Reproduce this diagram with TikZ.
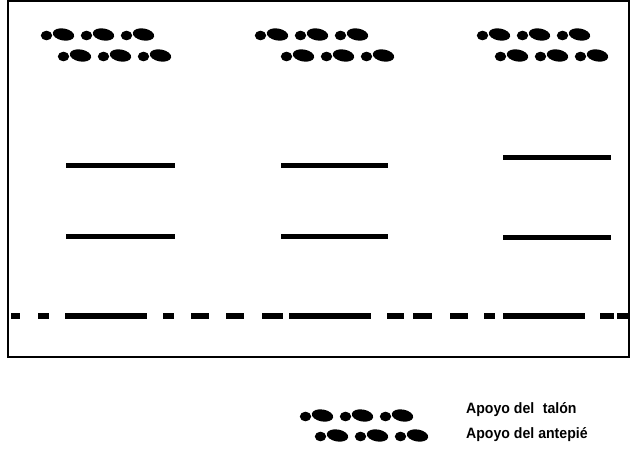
\documentclass[tikz,border=0pt]{standalone}
\usepackage{fontspec}
\setmainfont{Liberation Sans}
\begin{document}
\begin{tikzpicture}[x=1pt,y=-1pt,
  frame/.style={line width=1.8pt},
  bar/.style={line width=5pt},
  dashbar/.style={line width=5.5pt},
  legendtext/.style={anchor=base west,inner sep=0pt,font=\fontsize{15}{17}\selectfont\bfseries},
  footpair/.pic={
    \fill (5.5,0.5) ellipse [x radius=5.7, y radius=4.8];
    \fill[rotate around={-10:(22.5,-0.5)}] (22.5,-0.5) ellipse [x radius=10.8, y radius=6];
  }]
\useasboundingbox (0,0) rectangle (633,448);
\draw[frame] (8,1) rectangle (629,357);
% footprint rows
\foreach \sx/\sy in {41/35, 255/35, 477/35, 58/56, 281/56, 495/56, 300/416, 315/436}{
  \foreach \k in {0,1,2}{
    \pic at ({\sx+40*\k},\sy) {footpair};
  }
}
% horizontal bars
\draw[bar] (66,165) -- (175,165);
\draw[bar] (66,236) -- (175,236);
\draw[bar] (281,165) -- (388,165);
\draw[bar] (281,236) -- (388,236);
\draw[bar] (503,157) -- (611,157);
\draw[bar] (503,237) -- (611,237);
% dash-dot line
\foreach \a/\b in {11/20, 38/49, 65/147, 163/174, 191/209, 226/244, 262/283, 289/371, 387/404, 413/432, 450/468, 484/495, 503/585, 600/614, 617/628}{
  \draw[dashbar] (\a,316) -- (\b,316);
}
% legend
\node[legendtext] (talon) at (466,413) {\scalebox{0.94}[1]{Apoyo del\hspace{0.6em}talón}};
\node[legendtext] (antepie) at (466,438) {\scalebox{0.94}[1]{Apoyo del antepié}};
\end{tikzpicture}
\end{document}
